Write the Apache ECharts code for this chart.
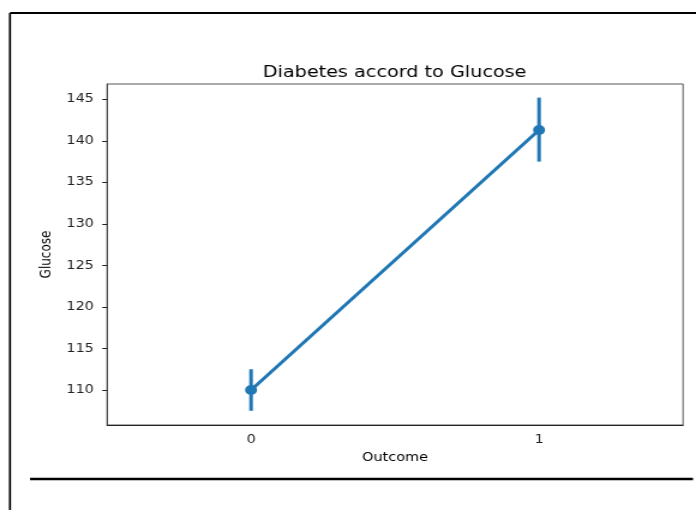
<!DOCTYPE html>
<html><head><meta charset="utf-8">
<script src="https://cdn.jsdelivr.net/npm/echarts@6/dist/echarts.min.js"></script>
<style>
html,body{margin:0;padding:0;background:#fff;overflow:hidden;}
#wrap{width:696px;height:510px;overflow:hidden;}
#c{width:580px;height:510px;transform:scaleX(1.2);transform-origin:0 0;}
</style>
</head><body><div id="wrap"><div id="c"></div></div>
<script>
const categories = ['0', '1'];
const meanGlucose = [110.0, 141.3];
const ciLow = [107.5, 137.5];
const ciHigh = [112.5, 145.2];
const yTicks = [110, 115, 120, 125, 130, 135, 140, 145];

const color = '#1f77b4';
const font = 'DejaVu Sans';
const chart = echarts.init(document.getElementById('c'), null, {renderer: 'canvas', width: 580, height: 510});
chart.setOption({
  animation: false,
  backgroundColor: '#fff',
  title: {
    text: 'Diabetes accord to Glucose', left: 323.8, top: 60, textAlign: 'center',
    textStyle: {fontFamily: font, fontSize: 16, fontWeight: 'normal', color: '#000'}
  },
  grid: {left: 89.2, right: 10.8, top: 84, bottom: 85, show: true, borderColor: '#555', borderWidth: 1},
  xAxis: {
    type: 'category', data: categories, boundaryGap: true,
    name: 'Outcome', nameLocation: 'middle', nameGap: 27,
    nameTextStyle: {fontFamily: font, fontSize: 12, color: '#000'},
    axisLine: {lineStyle: {color: '#222', width: 1}},
    axisTick: {alignWithLabel: true, length: 4, lineStyle: {color: '#222'}},
    axisLabel: {fontFamily: font, fontSize: 12, color: '#222', margin: 9}
  },
  yAxis: {
    type: 'value', min: 105.79, max: 146.84,
    name: 'Glucose', nameLocation: 'middle', nameGap: 42,
    nameTextStyle: {fontFamily: font, fontSize: 12, color: '#000'},
    splitLine: {show: false},
    axisLine: {show: true, lineStyle: {color: '#444', width: 1}},
    axisTick: {show: true, length: 4, customValues: yTicks, lineStyle: {color: '#222'}},
    axisLabel: {fontFamily: font, fontSize: 12, color: '#222', margin: 11, customValues: yTicks}
  },
  graphic: [
    {type: 'line', shape: {x1: 8.3, y1: 13, x2: 580, y2: 13}, style: {stroke: '#000', lineWidth: 2}},
    {type: 'line', shape: {x1: 8.3, y1: 13, x2: 8.3, y2: 510}, style: {stroke: '#000', lineWidth: 1.7}},
    {type: 'line', shape: {x1: 25, y1: 479, x2: 577.5, y2: 479}, style: {stroke: '#000', lineWidth: 2.5}}
  ],
  series: [
    {
      type: 'line', data: meanGlucose, symbol: 'circle', symbolSize: 10,
      lineStyle: {color: color, width: 3}, itemStyle: {color: color}, z: 3
    },
    {
      type: 'custom',
      data: categories.map((c, i) => [i, ciLow[i], ciHigh[i]]),
      renderItem: function (params, api) {
        const p1 = api.coord([api.value(0), api.value(1)]);
        const p2 = api.coord([api.value(0), api.value(2)]);
        return {type: 'line', shape: {x1: p1[0], y1: p1[1], x2: p2[0], y2: p2[1]},
          style: {stroke: color, lineWidth: 3}};
      },
      z: 2
    }
  ]
});
</script></body></html>
